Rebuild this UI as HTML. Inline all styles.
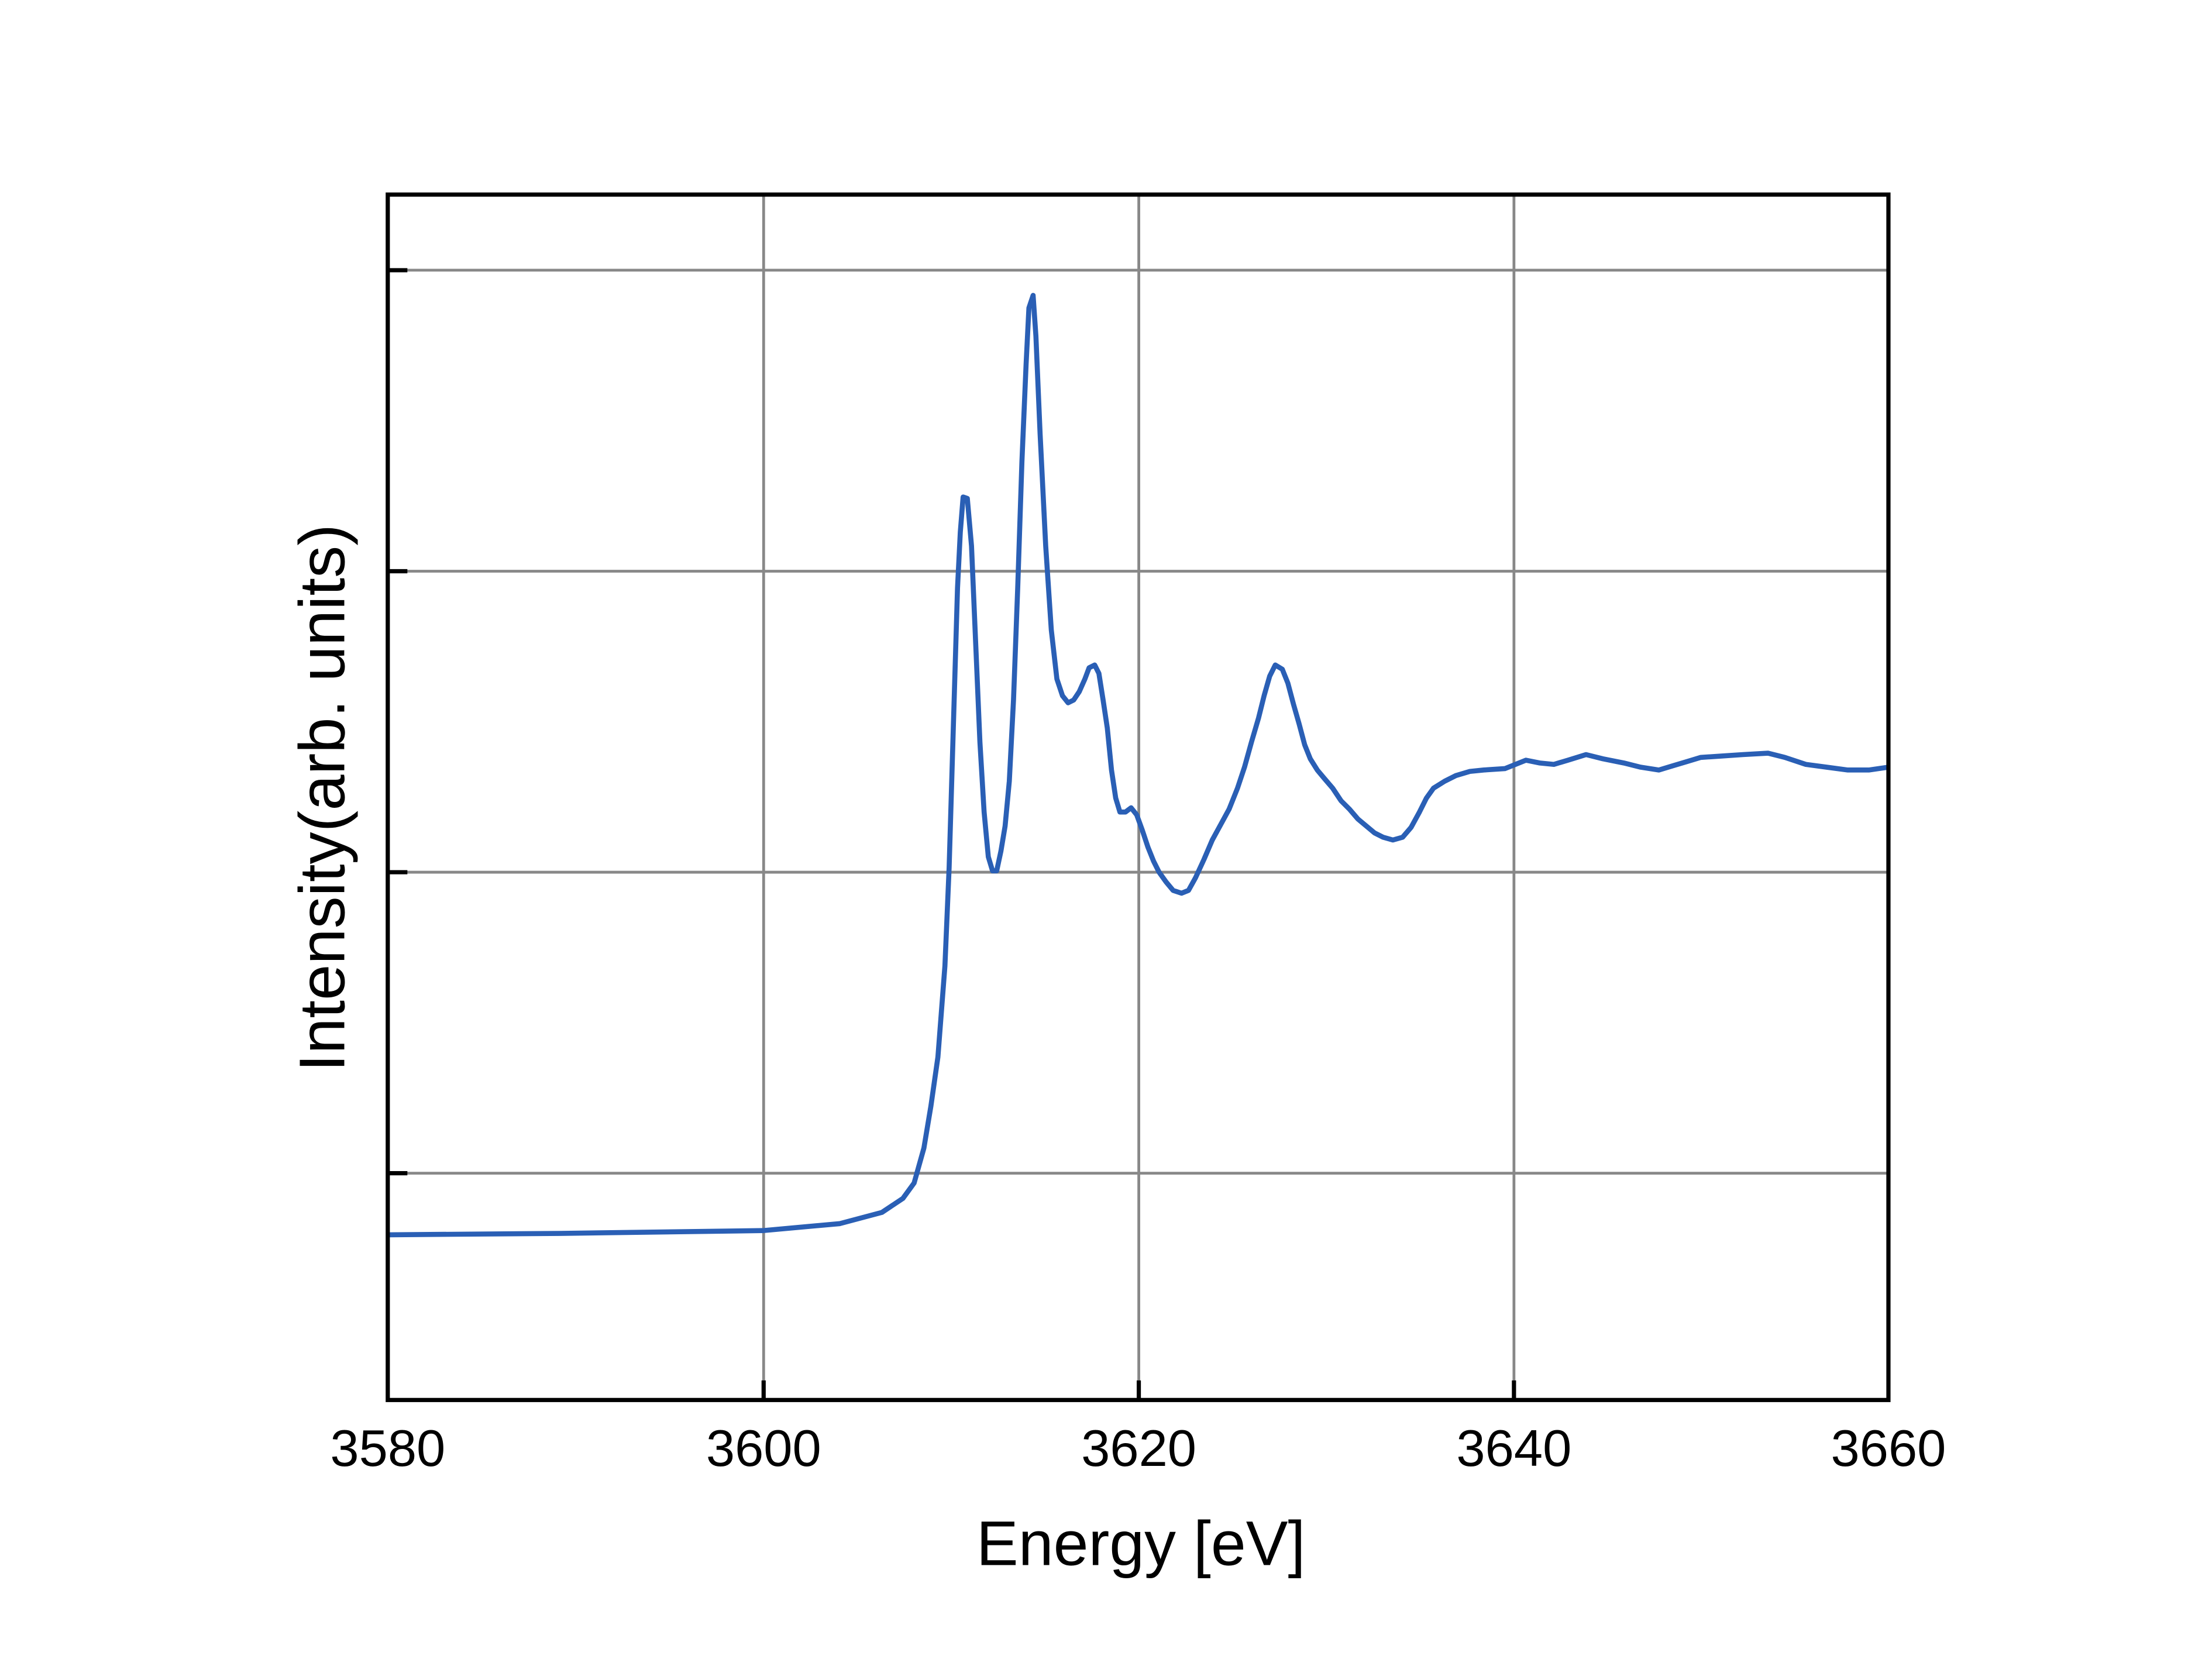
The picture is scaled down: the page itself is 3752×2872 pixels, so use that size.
<!DOCTYPE html>
<html><head><meta charset="utf-8"><style>html,body{margin:0;padding:0;background:#fff}svg{display:block}</style></head>
<body>
<svg width="3752" height="2872" viewBox="0 0 1568 1200" preserveAspectRatio="none" xmlns="http://www.w3.org/2000/svg">
<rect width="1568" height="1200" fill="#fff"/>
<g stroke="#888" stroke-width="2">
<line x1="545.5" y1="139" x2="545.5" y2="1000"/>
<line x1="813.5" y1="139" x2="813.5" y2="1000"/>
<line x1="1081.5" y1="139" x2="1081.5" y2="1000"/>
<line x1="277" y1="193" x2="1349" y2="193"/>
<line x1="277" y1="408" x2="1349" y2="408"/>
<line x1="277" y1="623" x2="1349" y2="623"/>
<line x1="277" y1="838" x2="1349" y2="838"/>
</g>
<g stroke="#000" stroke-width="3">
<line x1="277" y1="193" x2="291" y2="193"/>
<line x1="277" y1="408" x2="291" y2="408"/>
<line x1="277" y1="623" x2="291" y2="623"/>
<line x1="277" y1="838" x2="291" y2="838"/>
<line x1="545.5" y1="1000" x2="545.5" y2="986"/>
<line x1="813.5" y1="1000" x2="813.5" y2="986"/>
<line x1="1081.5" y1="1000" x2="1081.5" y2="986"/>
</g>
<polyline fill="none" stroke="#2a5fb5" stroke-width="3.6" stroke-linejoin="round" points="278,882 400,881 545,879 600,874 630,866 645,856 653,845 660,820 665,790 670,755 675,690 678,620 681,520 684,420 686,380 688,355 691,356 694,390 697,460 700,530 703,580 706,612 709,622 712,622 715,608 718,590 721,558 724,500 727,420 730,330 733,260 735,220 738,211 740,240 743,310 747,390 751,450 755,485 759,497 763,502 767,500 771,494 775,485 778,477 782,475 785,481 788,500 791,520 794,550 797,570 800,580 804,580 808,577 812,582 816,593 820,605 824,615 828,623 833,630 838,636 844,638 849,636 854,627 860,614 866,600 872,589 878,578 884,563 889,548 894,530 899,513 903,497 907,483 911,475 916,478 920,488 924,503 928,517 932,532 936,542 941,550 946,556 952,563 958,572 964,578 970,585 976,590 982,595 988,598 995,600 1002,598 1008,591 1014,580 1019,570 1024,563 1032,558 1040,554 1050,551 1060,550 1075,549 1090,543 1100,545 1110,546 1120,543 1133,539 1145,542 1160,545 1172,548 1185,550 1195,547 1205,544 1215,541 1230,540 1245,539 1263,538 1275,541 1290,546 1305,548 1320,550 1335,550 1349,548"/>
<rect x="277" y="139" width="1072" height="861" fill="none" stroke="#000" stroke-width="3"/>
<g font-family="Liberation Sans, Arial, sans-serif" font-size="37" text-anchor="middle" fill="#000">
<text x="277" y="1047">3580</text>
<text x="545.5" y="1047">3600</text>
<text x="813.5" y="1047">3620</text>
<text x="1081.5" y="1047">3640</text>
<text x="1349" y="1047">3660</text>
<text x="815" y="1118" font-size="45">Energy [eV]</text>
<text transform="translate(246,570) rotate(-90)" font-size="46">Intensity(arb. units)</text>
</g>
</svg>
</body></html>
